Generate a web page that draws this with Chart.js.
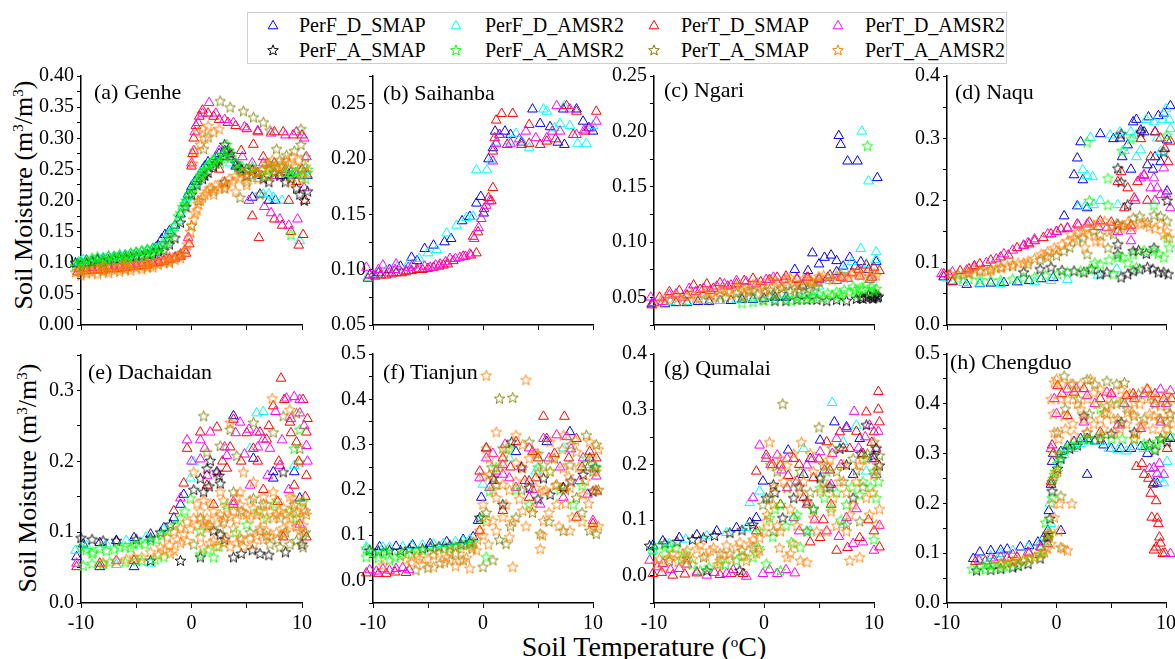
<!DOCTYPE html>
<html>
<head>
<meta charset="utf-8">
<script src="https://cdn.jsdelivr.net/npm/chart.js@4.4.0/dist/chart.umd.min.js"></script>
<style>
  body { margin: 0; width: 1175px; height: 659px; overflow: hidden; background: #fff; position: relative; font-family: 'Liberation Serif', serif; color: #000; }
  canvas.panel { position: absolute; }
  .ptitle { position: absolute; font-size: 22px; line-height: 22px; white-space: nowrap; }
  .ytitle { position: absolute; font-size: 26px; line-height: 28px; white-space: nowrap; transform: translate(-50%, -50%) rotate(-90deg); }
  .xtitle { position: absolute; font-size: 28px; line-height: 30px; white-space: nowrap; transform: translate(-50%, -50%); }
  sup { font-size: 15px; vertical-align: 9px; line-height: 0; }
  #legend { position: absolute; left: 247px; top: 12px; width: 758px; height: 50px; border: 1px solid #cfcfcf; }
  .lg { position: absolute; font-size: 20px; line-height: 20px; white-space: nowrap; }
  .lgm { position: absolute; }
</style>
</head>
<body>
<div id="legend"></div>
<div class="ytitle" style="left:24px; top:195px;">Soil Moisture (m<sup>3</sup>/m<sup>3</sup>)</div>
<div class="ytitle" style="left:28px; top:478px;">Soil Moisture (m<sup>3</sup>/m<sup>3</sup>)</div>
<div class="xtitle" style="left:644px; top:647px;">Soil Temperature (<sup>o</sup>C)</div>
<script>
// series (legend order)
const seriesNames = ['PerF_D_SMAP', 'PerF_D_AMSR2', 'PerT_D_SMAP', 'PerT_D_AMSR2',
                     'PerF_A_SMAP', 'PerF_A_AMSR2', 'PerT_A_SMAP', 'PerT_A_AMSR2'];
const seriesColors = ['#0000ff', '#00ffff', '#ff0000', '#ff00ff',
                      '#000000', '#00ff00', '#808000', '#ff8000'];
const seriesShapes = ['triangle', 'triangle', 'triangle', 'triangle', 'star', 'star', 'star', 'star'];

// x = soil temperature (oC), y = soil moisture (m3/m3), flat pairs
// (a) Genhe
const aFDSMAP = [-10.3,.098, -9.5,.104, -8.5,.106, -7.5,.109, -6.5,.111, -5.5,.114, -4.5,.118, -3.5,.122, -3,.127, -2.7,.138, -2.4,.145, -2,.151, -1.5,.16, -1,.178, -.6,.196, -.3,.21, 0,.222, .5,.235, 1,.25, 1.5,.262, 2.2,.27, 3,.28, 3.5,.27, 4,.255, 5,.25, 5.5,.205, 6.2,.21, 7,.2, 7.6,.2, 8,.24, 9,.245, 10,.25, 10.5,.24,
  -10,.1, -9,.104, -8,.107, -7,.11, -6,.112, -5,.116, -4,.12, -3.2,.125, .3,.23, 1.2,.255, 2.5,.275, 4.5,.25, 6,.24];
const aFDAMSR2 = [-10.5,.1, -9.8,.105, -9,.104, -8,.108, -7,.11, -6,.112, -5,.116, -4,.119, -3.2,.123, -2.5,.135, -2,.148, -1.6,.156, -1.2,.168, -.8,.19, -.4,.205, .2,.225, .8,.245, 1.4,.255, 2,.265, 2.8,.27, 3.5,.26, 4.5,.245, 5.5,.24, 6.5,.21, 7.4,.205, 8.2,.2, 9,.24, 9.8,.135, 10.3,.25,
  -10,.102, -8.5,.106, -7.5,.109, -6.5,.111, -5.5,.114, -4.5,.118, -3.5,.121, 9.5,.245, 6,.235, 7,.21];
const aTDSMAP = [-10.3,.085, -9,.088, -8,.088, -7,.09, -6,.092, -5,.094, -4,.096, -3,.1, -2,.105, -1,.11, -.2,.13, 0,.255, .1,.275, .2,.3, .4,.32, .7,.335, 1,.345, 1.5,.34, 2,.335, 2.5,.33, 3.3,.325, 4,.32, 5,.315, 6,.31, 7.5,.31, 8.3,.31, 9.2,.305, 10,.305, 4.5,.28, 5.6,.29, 6.5,.27, 7.5,.26, 8.5,.25, 9.5,.23, 6.1,.14, 5.5,.175, 7.5,.17, 8.2,.16, 9,.15, 9.7,.128, 10.1,.145, 10.3,.2, 8.8,.2, 3,.27, 2.5,.25,
  -9.5,.087, -8.5,.088, -7.5,.09, -6.5,.091, -5.5,.093, -4.5,.095, -3.5,.098, -2.5,.102, -1.5,.107, -.5,.115];
const aTDAMSR2 = [-10.2,.09, -9,.092, -8,.093, -7,.094, -6,.096, -5,.098, -4,.1, -3,.103, -2,.106, -1,.112, -.3,.14, 0,.26, .2,.28, .3,.31, .6,.325, 1,.34, 1.6,.357, 2.2,.34, 3,.33, 3.8,.325, 4.8,.318, 6,.312, 7.2,.308, 8.5,.305, 9.5,.31, 10.2,.3, 2.5,.28, 3.5,.275, 4.6,.27, 5.5,.26, 6.5,.26, 7.5,.24, 8.5,.245, 9.5,.24, 10.4,.27, 6.6,.19, 7.2,.18, 8,.17, 8.8,.16, 9.6,.17, 10.2,.22, 5.2,.2,
  -9.5,.091, -8.5,.092, -7.5,.094, -6.5,.095, -5.5,.097, -4.5,.099, -3.5,.101, -2.5,.104, -1.5,.109, -.6,.12];
const aFASMAP = [-10.5,.1, -9.5,.1, -8.5,.105, -7.5,.105, -6.5,.108, -5.5,.11, -4.5,.112, -3.5,.115, -2.5,.12, -1.5,.14, -1,.165, -.5,.19, 0,.21, .5,.225, 1,.235, 1.5,.245, 2,.255, 2.5,.265, 3,.29, 3.5,.275, 4,.26, 5,.24, 6,.245, 7,.23, 8,.24, 9,.235, 9.8,.21, 10.2,.2, 10.5,.215, 4.5,.25, 3,.23,
  -9,.102, -8,.103, -7,.107, -6,.109, -5,.111, -4,.114, -3,.118, -2,.13, 1.2,.24, 2.2,.26, 3.3,.28, 4.2,.255, 5.5,.25, 6.5,.235, 7.5,.245, 8.5,.23, 9.5,.22];
const aFAAMSR2 = [-10.5,.095, -10,.1, -9.5,.105, -9,.108, -8.5,.11, -8,.105, -7.5,.112, -7,.11, -6.5,.114, -6,.112, -5.5,.116, -5,.118, -4.5,.12, -4,.122, -3.5,.124, -3,.126, -2.5,.13, -2,.145, -1.5,.16, -1.2,.175, -.8,.19, -.5,.2, -.2,.21, .2,.22, .6,.235, 1,.245, 1.4,.255, 1.8,.262, 2.3,.27, 2.8,.275, 3.2,.29, 3.6,.27, 4,.26, 4.6,.255, 5.2,.25, 5.8,.245, 6.4,.25, 7,.25, 7.6,.245, 8.2,.255, 8.8,.25, 9.4,.245, 10,.24, 10.5,.25, 9,.145, -9.8,.09, -7.8,.095, -5.8,.1, -3.8,.105,
  -10.2,.102, -9.7,.098, -9.2,.1, -8.7,.103, -8.2,.1, -7.7,.106, -7.2,.104, -6.7,.108, -6.2,.106, -5.7,.109, -5.2,.112, -4.7,.11, -4.2,.114, -3.7,.116, -3.2,.118, -2.8,.122, -2.2,.135, -1.8,.15, -1,.18, -.6,.195, 0,.215, .4,.23, .8,.24, 1.2,.25, 1.6,.258, 2,.265, 2.6,.26, 3,.27, 3.4,.28, 4.3,.25, 5.5,.255, 6.7,.24, 7.3,.255, 8.5,.245, 9.1,.24, 9.7,.25, 10.3,.235];
const aTASMAP = [-10,.085, -8,.088, -6,.09, -4,.093, -2,.1, -1,.115, 0,.16, .6,.2, 1.1,.283, 1.5,.302, 2.6,.36, 3.5,.35, 4.7,.344, 5.6,.334, 6.5,.326, 7.1,.313, 7.7,.283, 8.6,.273, 9.3,.28, 9.9,.315, 9.9,.29, 6.2,.21, 4.4,.205, 5,.23, 7,.26, 8,.265, 10.3,.27, 3,.22, 2,.215];
const aTAAMSR2 = [-10.5,.085, -10,.08, -9.5,.083, -9,.085, -8.5,.082, -8,.086, -7.5,.084, -7,.088, -6.5,.086, -6,.09, -5.5,.088, -5,.092, -4.5,.09, -4,.094, -3.5,.093, -3,.097, -2.5,.1, -2,.102, -1.5,.105, -1,.108, -.5,.12, -.2,.14, 0,.16, .3,.18, .6,.195, 1,.205, 1.4,.215, 1.8,.22, 2.2,.225, 2.8,.23, 3.4,.235, 4,.24, 4.6,.245, 5.2,.25, 5.8,.245, 6.4,.25, 7,.255, 7.6,.255, 8.2,.26, 8.8,.26, 9.4,.255, 10,.25, 10.5,.245, .1,.26, .3,.28, .6,.31, 1,.315, 1.5,.32, 2.5,.315, 3,.22, 4,.215, 5,.225, 6,.235, 7,.24, 8,.245, 9,.23, 10,.235, -8,.095, -6,.1, -4,.1, -2,.11,
  -10.2,.088, -9.7,.09, -9.2,.087, -8.7,.09, -8.2,.092, -7.7,.089, -7.2,.093, -6.7,.091, -6.2,.095, -5.7,.093, -5.2,.096, -4.7,.095, -4.2,.098, -3.7,.097, -3.2,.1, -2.7,.104, -2.2,.106, -1.7,.108, -1.2,.112, -.8,.115, -.4,.13, -.1,.15, .2,.17, .5,.185, .8,.2, 1.2,.21, 1.6,.22, 2,.21, 2.5,.22, 3.1,.225, 3.7,.23, 4.3,.235, 4.9,.24, 5.5,.24, 6.1,.245, 6.7,.26, 7.3,.265, 7.9,.25, 8.5,.265, 9.1,.27, 9.7,.265, 10.3,.255, 10.6,.24, 1.2,.3, 2,.31, .8,.29];

// (b) Saihanba
const bFDSMAP = [-10.3,.095, -9.5,.097, -8.5,.1, -7.5,.103, -6.5,.111, -6,.108, -5.3,.119, -4.5,.122, -3.5,.125, -2.9,.128, -1.9,.144, -1.2,.148, -.6,.16, -.2,.166, .06,.151, .5,.2, .9,.21, 1.1,.225, 1.5,.222, 2,.225, 2.5,.222, 3.5,.215, 4.5,.245, 5.2,.232, 6.1,.229, 6.8,.215, 7.3,.245, 7.4,.213, 8.5,.245, 9.1,.234, 9.6,.228, 10,.225];
const bFDAMSR2 = [-10.5,.093, -9.7,.096, -8.8,.099, -7.8,.102, -6.8,.105, -5.8,.11, -5,.115, -4.2,.118, -3.3,.133, -2.4,.14, -1.5,.147, -.9,.148, -.6,.19, .36,.19, .76,.199, 1.2,.215, 2.4,.216, 3,.223, 3.6,.215, 4.2,.21, 5.5,.245, 5.8,.243, 6.5,.228, 7,.232, 7.9,.23, 7.4,.248, 8.6,.214, 9.4,.214, 10,.23];
const bTDSMAP = [-10.45,.092, -9.8,.094, -8.8,.095, -7.9,.097, -7,.098, -6,.1, -5,.101, -4,.103, -3.2,.105, -2.7,.108, -1.8,.112, -1.1,.113, -.6,.115, -.9,.13, -.45,.134, .1,.155, .5,.165, .9,.174, .76,.162, .9,.207, 1.06,.219, 1.2,.235, 1.7,.241, 2.7,.241, 2.2,.213, 3.5,.213, 4.2,.231, 4.2,.214, 5.2,.213, 5.8,.216, 6.6,.218, 7.6,.248, 8.2,.222, 8.5,.243, 9.3,.225, 10.3,.243,
  -9.3,.095, -8.3,.096, -7.4,.097, -6.5,.099, -5.5,.1, -4.5,.102, -3.6,.104];
const bTDAMSR2 = [-10.6,.102, -10,.095, -9.1,.104, -8.5,.097, -7.9,.105, -7,.099, -6.4,.104, -5.8,.101, -4.8,.102, -3.9,.105, -3,.11, -2.1,.111, -1.2,.114, -.8,.128, -.4,.138, -.15,.146, .3,.158, .6,.162, .9,.198, 1.2,.214, 1.5,.222, 2.5,.214, 3.3,.218, 3.9,.225, 4.8,.219, 5.8,.219, 6.3,.225, 6.7,.248, 7,.225, 7.9,.245, 8.5,.222, 9.2,.226, 9.7,.228, 10.3,.234, 10.6,.235,
  -9.5,.1, -8,.1, -6.8,.102, -5.3,.103, -4.3,.104, -3.4,.107, -2.5,.11, -1.6,.112];
const bFASMAP = [];
const bFAAMSR2 = [];
const bTASMAP = [];
const bTAAMSR2 = [];

// (c) Ngari
const cFDSMAP = [-10.2,.044, -9,.044, -8,.045, -7,.045, -6,.046, -5,.046, -4,.047, -3,.047, -2,.048, -1,.048, 0,.049, 1,.05, 2,.05, 2.8,.075, 4,.074, 4.4,.09, 5,.08, 5.5,.086, 6.1,.088, 6.6,.083, 6.6,.073, 7.2,.078, 7.8,.086, 8.3,.078, 8.8,.082, 9.5,.075, 10.2,.082, 6.8,.196, 6.97,.188, 7.6,.173, 8.5,.173, 10.3,.158, 3.5,.06, 5.8,.068];
const cFDAMSR2 = [-10,.045, -8.5,.046, -7,.046, -5.5,.047, -4,.047, -2.5,.048, -1,.049, .5,.05, 2,.051, 3.5,.052, 4.5,.055, 6,.065, 7.3,.075, 8,.082, 8.8,.094, 9.3,.08, 10.2,.091, 10.2,.084, 8.9,.2, 9.5,.155, 5,.06, 9.8,.07];
const cTDSMAP = [-10.2,.043, -9.5,.05, -8.6,.055, -7.7,.056, -7,.052, -6.4,.061, -5.8,.057, -5.2,.062, -4.6,.058, -4,.063, -3.3,.06, -2.5,.062, -1.8,.065, -1,.067, -.3,.064, .5,.066, 1.2,.068, 2,.069, 3,.066, 4,.068, 5,.067, 6,.07, 7,.068, 8,.072, 8.6,.075, 9.3,.079, 10,.077, 10.5,.074, 9.8,.068];
const cTDAMSR2 = [-10.3,.05, -10,.045, -9.2,.046, -8.6,.052, -8,.053, -7.4,.05, -6.8,.058, -6.2,.055, -5.5,.058, -4.9,.056, -4.3,.06, -3.6,.062, -3,.061, -2.5,.065, -1.6,.064, -.7,.062, .2,.066, .85,.068, 1.8,.066, 3,.067, 3.9,.068, 5,.066, 6.6,.065, 7.6,.067, 8.7,.069, 9.6,.066];
const cFASMAP = [1,.047, 2,.047, 3,.048, 3.9,.048, 4.8,.048, 5.7,.047, 6.6,.048, 7.5,.047, 8.4,.049, 9,.049, 9.3,.05, 9.7,.051, 10,.05, 10.3,.05, 10.1,.053,
  8.8,.05, 9.5,.052, 9.9,.049, 10.2,.052, 10.4,.051];
const cFAAMSR2 = [-2,.045, -1,.046, 0,.047, 1,.048, 2,.049, 3,.05, 3.9,.052, 4.5,.051, 5,.053, 5.8,.054, 6.6,.055, 7.3,.057, 8.1,.06, 8.7,.058, 9.3,.062, 9.6,.055, 10,.056, 9.4,.187, 7,.05, 8.5,.053,
  5.4,.05, 6.2,.052, 6.9,.053, 7.7,.055, 8.3,.057, 9,.058, 9.8,.06, 10.2,.058, 4.2,.049, 3.4,.048, 2.5,.047];
const cTASMAP = [-5,.048, -4,.052, -3.5,.05, -2.5,.054, -1.8,.052, -1,.056, -.1,.048, .5,.057, 1.2,.055, 2,.061, 2.8,.058, 3.6,.06, 4.3,.062, 5,.064,
  -2,.05, -1.4,.057, -.6,.053, .1,.055, .9,.053, 1.6,.058, 2.4,.056, 3.2,.057, 4,.058, 4.7,.06];
const cTAAMSR2 = [-9.5,.045, -8.6,.048, -7.8,.05, -7,.051, -6.2,.05, -5.5,.054, -4.8,.052, -4,.057, -3.2,.055, -2.5,.06, -1.8,.058, -1,.062, -.3,.06, .5,.065, 1.2,.063, 2,.067, 2.8,.064, 3.6,.067, 4.3,.065, 5,.069, 5.8,.068, 6.6,.07, 7.3,.068, 8.1,.072, 8.8,.07, 9.6,.069, 10.2,.07,
  -9,.05, -8,.052, -7.4,.047, -6.6,.053, -5.9,.049, -5.1,.056, -4.4,.05, -3.6,.058, -2.9,.052, -2.1,.061, -1.4,.055, -.6,.063, .1,.057, .9,.066, 1.6,.06, 2.4,.068, 3.2,.061, 4,.066, 4.7,.064, 5.4,.07, 6.2,.066, 7,.071, 7.7,.069, 8.5,.073, 9.2,.071, 10,.072];

// (d) Naqu
const dFDSMAP = [-10.3,.077, -9.5,.07, -8.2,.065, -7,.066, -6,.067, -4.8,.068, -3.6,.069, -2.5,.071, -1.4,.074, -.3,.076, .7,.175, 1.6,.241, 1.9,.268, 1.9,.191, 2.2,.294, 2.4,.233, 2.8,.188, 4,.307, 5.2,.299, 6.5,.289, 7,.326, 7.7,.313, 8.3,.257, 8.4,.334, 9.3,.336, 9.5,.262, 10.1,.215, 10.1,.297, 10.4,.352, 9,.27, 6,.27,
  5.8,.3, 7.3,.33, 8,.31, 9.8,.34, 9,.31, 6.8,.25, 8.8,.25];
const dFDAMSR2 = [-10,.075, -8.5,.068, -7,.067, -5.1,.066, -3.5,.068, -2,.069, -.5,.071, 1,.073, 2.4,.249, 3.1,.301, 3.3,.238, 3.4,.193, 4.9,.305, 5.6,.193, 6.2,.28, 7.7,.281, 8.9,.326, 9.5,.278, 10,.347, 10.4,.315, 10.7,.246, 4,.2, 7,.3, 2,.19, 3.8,.08, 5.5,.09,
  5.8,.31, 6.8,.31, 8.2,.33, 9.7,.33, 10.3,.33, 9.2,.3, 7.3,.27, 2.8,.24, 2.6,.19];
const dTDSMAP = [-10.3,.082, -9.5,.069, -8.8,.087, -7,.098, -5.1,.109, -3.6,.124, -2,.135, -.5,.146, .4,.154, 1.9,.162, 4,.167, 5.6,.23, 5.9,.246, 6.2,.188, 6.5,.22, 7.1,.204, 7.7,.299, 8,.241, 9,.31, 9.9,.283, 10.2,.262,
  -9.8,.08, -8,.09, -7.5,.095, -6,.104, -4.4,.112, -3,.128, -2.5,.13, -1.2,.14, 0,.15, 1,.155, 3,.165, 5,.165, 6.8,.16, 7.4,.23, 8.6,.27, 9.5,.3, 10.4,.295, 8.3,.2];
const dTDAMSR2 = [-10.5,.082, -8.2,.088, -6.4,.1, -4.8,.114, -2.6,.132, -.8,.146, 1,.156, 2.8,.162, 4.6,.156, 6.8,.151, 6.8,.135, 7.7,.236, 8.6,.22, 8.9,.236, 9.5,.209, 9.8,.252, 10.4,.188,
  -9.5,.085, -7.5,.093, -5.5,.106, -4,.12, -3,.127, -2,.138, 0,.15, 2,.16, 3.8,.158, 5.6,.15, 7.2,.2, 8,.24, 9.2,.22, 10,.21, 9,.2];
const dFASMAP = [-3,.085, -1.5,.09, -.5,.093, 1.6,.087, 4,.082, 5.9,.077, 7,.087, 8.3,.093, 9.8,.085, 5.6,.114, 7,.119, 8.9,.124, 5.6,.13, 5.9,.23, 5.6,.252, 5.9,.307, 7.7,.31, 6.5,.193, 9.8,.278, 10.1,.2, 5.6,.162,
  .5,.088, 2.5,.085, 3.2,.09, 4.6,.085, 6.5,.082, 7.6,.09, 8.8,.09, 9.3,.085, 10.2,.082, 7.5,.12, 8.2,.115];
const dFAAMSR2 = [-9,.075, -7,.073, -5.1,.072, -2,.077, .1,.082, 2.2,.087, 4,.098, 5.6,.109, 7,.114, 8.9,.119, 9.8,.109, 10.1,.14, 4.7,.193, 2.8,.294, 4.7,.236, 6.8,.299, 10.1,.305, 8.9,.193, 5.2,.082, 7.3,.093,
  -8,.074, -6,.072, -4,.074, -3,.076, -1,.08, 1,.085, 3,.09, 3.5,.1, 4.8,.105, 6,.11, 6.5,.1, 8,.12, 9.3,.115, 10.3,.125, 6,.28, 3,.2];
const dTASMAP = [-9,.082, -7,.088, -5.1,.093, -2.6,.098, -.8,.109, .7,.119, 1.9,.135, 3.4,.151, 5.2,.146, 7,.172, 8.9,.177, 10.1,.167, 2.8,.114, 4.7,.124,
  -8,.085, -6,.09, -4,.095, -1.5,.105, 0,.112, 1.2,.125, 2.4,.14, 4,.145, 6,.16, 7.6,.175, 8.3,.165, 9.5,.175];
const dTAAMSR2 = [-9.7,.082, -8.2,.085, -7.5,.09, -6.3,.087, -5.5,.092, -4.5,.095, -3.5,.1, -2.6,.103, -1.4,.114, -.8,.118, -.2,.124, .5,.13, 1.3,.146, 2,.15, 2.8,.156, 3.4,.16, 4.4,.167, 4,.135, 5,.16, 5.9,.156, 6.5,.165, 7.7,.162, 8.5,.158, 9.5,.162, 9.8,.145, 10.1,.151,
  -9,.08, -8,.082, -7,.086, -6,.088, -5,.092, -4,.098, -3,.1, -2,.107, -1,.112, 0,.12, 1,.135, 1.6,.14, 2.4,.15, 3,.145, 3.8,.165, 4.8,.15, 5.5,.163, 6.2,.16, 7,.158, 8,.165, 9,.155, 10.3,.14, 2.6,.125, 3.6,.135];

// (e) Dachaidan
const eFDSMAP = [-10.4,.065, -9.8,.083, -8.3,.085, -6.8,.088, -5.2,.092, -3.7,.097, -2.5,.106, -1.6,.12, -1,.139, -.7,.153, 3.8,.264, 5.6,.204, 7.4,.185, 7.4,.176, 10.8,.13, 9.8,.148, 9.3,.185, -8.3,.051, -5.2,.051];
const eFDAMSR2 = [-10.5,.074, -9.5,.081, -7.7,.083, -5.9,.088, -4.1,.093, -2.5,.104, -.1,.176, .2,.199, 5.9,.268, 6.5,.27, 5.3,.218, 9.3,.194, -6.8,.054, -3.7,.056];
const eTDSMAP = [-10.4,.051, -8.3,.056, -5.2,.06, -1.6,.13, -.7,.169, -.4,.218, .8,.241, 2.3,.248, 3.8,.259, 3.2,.19, 1.4,.166, 5.6,.218, 6.2,.241, 6.8,.231, 7.4,.278, 8.1,.317, 8.4,.287, 8.9,.255, 9.5,.227, 10.1,.287, 10.4,.241, 10.4,.18, 8.3,.093, 10.4,.093, 9.3,.166, 7.8,.143, 2,.139, 3.8,.139,
  4.5,.2, 5,.24, 6,.2, 7,.25, 7.9,.2, 9,.24, 9.7,.2, 10.5,.26, 10.3,.15, 6.5,.16, 3.5,.22, 2.8,.2];
const eTDAMSR2 = [-10.4,.056, -6.8,.06, -1,.148, -.4,.23, .8,.23, 1.2,.218, 1.7,.241, .8,.203, 1.4,.18, 3.2,.208, 4.4,.255, 5.2,.245, 5.9,.241, 6.5,.231, 7.1,.218, 8.6,.289, 9.3,.291, 9.8,.287, 9.8,.268, 10.4,.222, 8,.194, 5.3,.166, 3.8,.143, 9.8,.111, 2.3,.185,
  3,.22, 4,.24, 4.8,.21, 6,.22, 7.6,.27, 8.2,.23, 9,.26, 10.2,.25, 10.5,.2, 8.8,.16, 6.9,.18, 0,.2];
const eFASMAP = [-10,.092, -6.8,.088, -3.7,.092, -1.9,.111, .2,.16, .8,.176, 1.4,.19, 1.7,.201, 2.3,.185, 2.6,.169, 1.1,.157, 2,.102, 2.6,.097, .8,.065, -1,.06, 3.8,.065, 6.2,.07, 8.3,.185, 10,.083, -3.7,.06,
  -9,.09, -8,.088, -5,.09, -2.8,.1, 1.6,.165, 2.5,.18, 3,.09, 4.5,.07, 5.5,.075, 7,.068, 8.5,.072];
const eFAAMSR2 = [-10,.079, -8.9,.072, -7.7,.074, -6.5,.079, -5.2,.083, -3.7,.088, -2.2,.101, -1,.12, -.1,.148, -9.8,.053, -7.4,.058, -4.5,.06, .8,.069, 2,.065, .8,.102, 3.2,.139, 5,.111, 6.8,.12, 8.9,.13, 9.3,.218, 9.8,.245, 10.1,.143,
  -9.5,.075, -9,.07, -8.3,.077, -7,.076, -6,.08, -5.5,.078, -4.8,.085, -4.2,.083, -3.2,.09, -2.7,.096, -1.5,.11, -.6,.13, -9,.056, -8,.055, -6,.058, -5,.06, -3.3,.062, -2.5,.065, 1.5,.075, 2.5,.08, 4,.1, 6,.13, 7.5,.14, 9.5,.12];
const eTASMAP = [1.1,.264, 1.4,.213, 2.6,.222, 3.5,.245, 4.1,.208, 5.6,.255, 7.4,.241, 8.3,.264, 9.5,.268, 9.8,.218, 9.8,.199, 6.2,.102, 7.1,.083, 8,.079, 8.9,.083, 10.1,.079, 3.8,.157, 5.6,.148, 9.3,.139, .8,.12, 2.6,.106, .2,.083, 10.1,.097,
  4.5,.09, 5.3,.1, 6.8,.095, 7.8,.09, 8.5,.1, 9.5,.088, 10.3,.1, 1.5,.11, 3,.12, 4.5,.13, 6.5,.14, 8,.12, 10.3,.13];
const eTAAMSR2 = [-6.8,.06, -5.2,.065, -3.7,.072, -2.8,.079, -2.2,.093, -1.6,.101, -1,.106, -.4,.115, .2,.12, .8,.13, 1.4,.12, 2,.13, 2.6,.125, 3.2,.134, 3.8,.13, 4.4,.139, 5,.125, 5.6,.134, 6.2,.13, 6.8,.139, 7.4,.12, 8,.13, 8.6,.125, 9.2,.134, 9.8,.12, 10.4,.125, .8,.093, 2,.088, 3.2,.093, 4.4,.093, 5.6,.083, 6.8,.102, 8.3,.106, 9.8,.102, -.4,.088, -1.6,.074, 1.4,.106, 3.8,.106, 6.2,.106, 2.6,.157, 4.7,.185, 7.3,.289, .2,.185, 3.5,.255, 8.9,.273, 4.4,.157, 5.6,.171, 7.4,.157, 9.2,.148,
  -3,.068, -2.5,.075, -2,.082, -1.3,.09, -.7,.098, -.1,.105, .5,.11, 1.1,.115, 1.7,.11, 2.3,.12, 2.9,.115, 3.5,.122, 4.1,.118, 4.7,.128, 5.3,.12, 5.9,.125, 6.5,.118, 7.1,.13, 7.7,.125, 8.3,.135, 8.9,.12, 9.5,.128, 10.1,.132, 10.6,.115, 1.1,.078, 1.7,.085, 2.3,.08, 2.9,.085, 3.5,.08, 4.1,.085, 4.7,.08, 5.3,.092, 5.9,.095, 6.5,.09, 7.1,.095, 7.7,.1, 8.3,.098, 8.9,.11, 9.5,.108, 10.1,.11, .5,.14, 1.1,.145, 1.7,.14, 2.9,.145, 4.1,.15, 5.3,.145, 6.5,.15, 7.7,.145, 8.9,.15, 10.1,.145, -1,.085, -1.9,.07, -4.5,.065, -5.9,.062, -8,.057];

// (f) Tianjun
const fFDSMAP = [-10.9,.07, -9.4,.074, -7.9,.075, -6.4,.078, -4.8,.081, -3.3,.085, -1.8,.09, -.9,.096, -.45,.132, -.15,.183, .3,.292, 3,.284, 5.8,.306, 7.9,.328, 9.7,.27, 4.2,.219];
const fFDAMSR2 = [-10.9,.052, -10.6,.074, -9.1,.073, -7.3,.074, -5.5,.078, -3.6,.081, -1.8,.087, 0,.212, 2.4,.27, 4.8,.241, 7.3,.292, 9.7,.255,
  -10.3,.065, -8.5,.073, -6.5,.077, -4.5,.08, -2.5,.085, -1.2,.09];
const fTDSMAP = [-10.6,.016, -8.8,.015, -7,.017, -.3,.241, .3,.292, 1.8,.27, 3,.306, 4.5,.284, 5.5,.362, 5.8,.313, 7.4,.362, 8.5,.313, 9.7,.284, 10.3,.197, 8.5,.139, 7.3,.205, 4.2,.183, 1.8,.154, -.3,.11, 10,.125, 4.8,.226,
  -9.5,.015, -8,.018, 1,.22, 2.5,.25, 3.8,.22, 5,.27, 6.5,.28, 7.8,.27, 9,.25, 10.3,.27];
const fTDAMSR2 = [-10.3,.023, -9.1,.025, -7.9,.026, -6.7,.023, -.3,.226, .3,.27, 1.2,.241, 1.8,.255, 2.4,.226, 4.2,.292, 5.5,.313, 6.7,.321, 7.6,.317, 9.1,.27, 10,.132, 7.3,.183, 5.2,.168, 3,.205, 1.8,.234, .6,.205,
  -9.7,.02, -8.5,.022, -7.3,.028, .9,.28, 2,.3, 3.5,.25, 4.5,.2, 6,.27, 7,.25, 8,.29, 8.8,.22, 9.5,.19, 10.3,.23];
const fFASMAP = [-10.3,.067, -8.5,.067, -6.7,.07, -4.8,.074, -3,.078, -1.2,.085, -.3,.139, .9,.226, 1.8,.168, 2.6,.306, 4.2,.205, 5.5,.226, 6.1,.19, 7.3,.205, 9.1,.234, 10,.197,
  -9.5,.065, -7.5,.066, -5.5,.07, -4,.075, -2,.08, 3.5,.25, 5,.18, 8,.22, 10.2,.25];
const fFAAMSR2 = [-10.6,.052, -9.1,.06, -7.3,.061, -5.5,.067, -3.6,.07, -1.8,.078, -.9,.085, -10.6,.07, -8.5,.045, 0,.139, .6,.197, 2.4,.292, 4.2,.168, 6.1,.241, 8.2,.168, 9.4,.27, .3,.052,
  -10,.06, -9.5,.05, -8.8,.065, -8,.05, -7.5,.055, -6.5,.06, -6,.065, -4.5,.068, -3,.072, -2.5,.075, -1.2,.08, 1.2,.25, 3,.2, 5,.25, 7,.2, 9,.21, 10.3,.25];
const fTASMAP = [-6.1,.023, -3.9,.038, -1.8,.045, 0,.03, .9,.045, 1.5,.402, 2.7,.404, 2.1,.081, 3,.139, 4.2,.306, 5.2,.103, 5.5,.255, 7.3,.11, 7.9,.255, 9.4,.321, 9.7,.11, 10.3,.103, 10,.241, 6.7,.212, 1.2,.212, 1.8,.292, 8.5,.183,
  -5,.028, -3,.045, -2.5,.06, -1,.07, .3,.15, .8,.25, 1.5,.09, 2.5,.12, 3.5,.2, 4.5,.15, 5,.28, 6,.13, 6.5,.27, 7.5,.2, 8,.3, 9,.15, 9.5,.25, 10.5,.2, 10.3,.3];
const fTAAMSR2 = [-10.9,.038, -9.1,.034, -7,.045, -5.8,.049, -4.5,.056, -3.3,.052, -2.1,.045, -1.2,.027, -.6,.067, -.3,.11, 0,.168, .3,.292, .6,.234, .9,.132, 1.2,.183, 1.8,.27, 2.4,.096, 3,.219, 3.6,.154, 3.9,.443, .3,.453, 4.2,.27, 4.8,.205, 5.5,.132, 5.2,.07, 2.7,.03, 6.1,.306, 6.7,.168, 7.3,.248, 7.9,.11, 8.5,.284, 9.1,.19, 9.7,.306, 10.3,.241, 10.6,.154, 10,.118, 7.3,.321, 3,.321, 1.2,.328, 3.6,.248, 6.1,.241, 7.9,.205, 5.5,.197, 2.1,.168, 1.8,.212,
  -6.5,.04, -6,.055, -5.5,.035, -5,.048, -4.5,.03, -4,.06, -3.5,.04, -3,.065, -2.5,.032, -2,.07, -1.5,.05, -1,.075, -.5,.09, 0,.23, .3,.13, .6,.27, .9,.2, 1.2,.11, 1.5,.25, 1.8,.14, 2.1,.29, 2.4,.2, 2.7,.13, 3,.26, 3.3,.18, 3.6,.3, 3.9,.12, 4.2,.22, 4.5,.16, 4.8,.28, 5.1,.24, 5.4,.1, 5.7,.2, 6,.15, 6.3,.27, 6.6,.21, 6.9,.12, 7.2,.29, 7.5,.17, 7.8,.23, 8.1,.14, 8.4,.31, 8.7,.25, 9,.13, 9.3,.22, 9.6,.17, 9.9,.27, 10.2,.2, 10.5,.29, 10.5,.12, 0,.1, .5,.08];

// (g) Qumalai
const gFDSMAP = [-10.1,.054, -9.2,.062, -7.7,.068, -6.1,.073, -4.3,.08, -2.5,.086, -1.3,.095, -.7,.104, -.1,.17, 2.2,.226, 5.1,.244, 6.4,.277, 7.5,.268, 8.7,.247, 10,.211, 4.2,.211, 3.6,.182, 8.1,.182];
const gFDAMSR2 = [-10.1,.045, -8.6,.057, -7.1,.065, -5.2,.071, -3.4,.077, -1.6,.086, -1.3,.131, -.4,.152, 3.6,.229, 6.2,.312, 7.2,.241, 8.4,.271, 5.1,.176, 9.3,.188, 4.2,.08, 7.2,.092];
const gTDSMAP = [-10.1,.003, -8.3,0, -6.1,.004, -4,.001, -1.9,.003, -.7,.08, -.7,.188, .2,.217, 1.5,.199, 2.7,.211, 4.5,.176, 5.7,.241, 6.9,.259, 7.8,.229, 9.3,.295, 10.4,.332, 10.5,.277, 10,.259, 10,.08, 6.6,.045, 5.1,.068, 8.7,.068, 10.5,.051, 6.1,.128, 3.6,.14, 1.5,.128,
  -9.3,.005, -7.2,.002, -3,.003, .8,.2, 2.2,.18, 3.2,.2, 5,.21, 6,.19, 7.2,.23, 8.4,.26, 9,.22, 9.8,.24, 10.4,.3, 5.4,.1, 7.6,.05, 9.5,.1, 4.2,.06];
const gTDAMSR2 = [-10.4,.027, -9.2,.021, -7.7,.012, -6.1,.006, -5.2,0, -3.4,.003, -1.6,-.002, -.1,.003, 1.2,.003, 2.8,.004, -1,.14, -.4,.235, .2,.211, 1.2,.217, 2.1,.211, 3.9,.199, 5.1,.223, 6.6,.247, 7.5,.265, 8.2,.296, 9.6,.271, 10.2,.229, 10.2,.182, 10,.045, 8.1,.057, 5.7,.08, 3.9,.128, 7.5,.104, 6.1,.164, 2.1,.158, 2.7,.104,
  -9.7,.015, -8.5,.01, -7,.02, -4.5,.005, -2.8,.01, .5,.01, 2,.01, .6,.2, 1.6,.19, 3,.17, 4.4,.21, 5.5,.19, 6.2,.22, 7,.2, 8.6,.23, 9.2,.25, 9.8,.21, 10.4,.26, 4.6,.1, 6.8,.07, 9,.06, 10.5,.09, 8.4,.12, 3.2,.08];
const gFASMAP = [-10.4,.054, -7.9,.061, -5.5,.068, -3.1,.077, -1,.092, .2,.14, .85,.164, 1.7,.104, 2.7,.14, 3.9,.134, 5.1,.176, 6.9,.229, 8.1,.14, 9.3,.272, 10,.217, 10.5,.199, -5.2,.009, -2.2,.009,
  -9,.058, -6.5,.065, -4.5,.072, -2,.082, 1,.15, 3.2,.16, 4.5,.12, 6,.16, 7.5,.2, 8.8,.22, 10.2,.23];
const gFAAMSR2 = [-10.1,.045, -8.6,.051, -7.1,.039, -5.8,.009, -4,.021, -2.5,.027, -1,.033, .2,.021, 1.5,.009, -.4,.08, .5,.104, 1.5,.128, 2.7,.104, 3.3,.051, 3.9,.08, 5.1,.158, 6.1,.122, 7.5,.128, 8.7,.146, 10,.188, 10.2,.14, 10,.065, 9.3,.211, 5.7,.188,
  -9.5,.055, -9,.04, -8,.05, -7.5,.03, -6.5,.02, -5,.015, -3.5,.02, -2,.035, -.5,.05, .8,.07, 1,.12, 2,.09, 2.5,.06, 3,.11, 4.5,.12, 5.5,.14, 6.6,.15, 7,.1, 8,.16, 9,.17, 9.7,.16, 10.4,.17];
const gTASMAP = [-8.6,.027, -5.5,.033, -3.1,.039, -1,.051, -.1,.128, 1.7,.31, 1.2,.188, 2.1,.158, 3.3,.188, 5,.268, 5.7,.158, 6.6,.188, 8.1,.211, 10,.241, 10.5,.217, 7.5,.092, 8.7,.098, 3.9,.08, .85,.08,
  -7,.03, -4,.04, -2,.045, .5,.14, 2.8,.17, 4.2,.15, 5.4,.2, 6.2,.23, 7.2,.17, 8.4,.19, 9.4,.22, 10.3,.19, 9,.16];
const gTAAMSR2 = [-9.8,.021, -8.6,.033, -7.4,.039, -6.1,.048, -4.9,.045, -3.7,.039, -2.5,.051, -1.3,.057, -.4,.068, .2,.098, .85,.128, .5,.241, 1.5,.08, 2.1,.033, 2.7,.057, 3.3,.027, 3.9,.024, 3.4,.241, 4.5,.188, 5.1,.152, 5.7,.199, 6.1,.116, 6.9,.17, 7.8,.027, 8.7,.033, 8.1,.128, 8.7,.199, 9.3,.14, 10,.182, 10.2,.092, 2.1,.199, 3.3,.152, 4.5,.104, 1.5,.211, -7.1,.021, -4,.027, -1.6,.027, -.4,.045, 5.7,.08, 7.5,.08,
  -9.5,.03, -9,.015, -8.3,.04, -7.8,.025, -7,.045, -6.5,.03, -5.8,.055, -5.3,.035, -4.6,.05, -4.2,.02, -3.4,.055, -3,.03, -2.2,.06, -1.8,.035, -1,.065, -.7,.04, 0,.08, .3,.11, .6,.2, .9,.16, 1.2,.09, 1.8,.17, 2.4,.12, 2.7,.22, 3,.09, 3.6,.17, 4,.13, 4.2,.22, 4.8,.08, 5.4,.17, 6,.21, 6.3,.14, 6.6,.09, 7.2,.2, 7.5,.15, 7.8,.11, 8.4,.17, 9,.21, 9.6,.11, 9.9,.15, 10.3,.2, 10.5,.12, 1.4,.05, 2.4,.04];

// (h) Chengduo
const hFDSMAP = [-7.6,.089, -7,.102, -5.1,.106, -3.3,.112, -1.7,.122, -.8,.145, -.7,.185, -.5,.238, -.4,.284, .4,.304, 1.6,.324, 2.8,.33, 4.3,.317, 5.9,.31, 7.7,.314, 8.9,.241, 10.4,.33, 2.8,.258, .4,.145,
  -6,.105, -4.5,.108, -2.5,.115, -1.2,.13, -.3,.3, 1,.315, 2.2,.33, 3.5,.325, 5,.31, 6.8,.31, 8.3,.3, 9.2,.24];
const hFDAMSR2 = [-7,.086, -5.1,.099, -2.6,.112, -.5,.159, -.2,.258, .7,.297, 2.2,.32, 4,.324, 5.6,.307, 7.1,.314, 9.8,.241, 10.1,.284, 8.9,.271,
  -6,.095, -4,.105, -1.5,.12, -.6,.2, .3,.29, 1.5,.31, 3,.325, 4.8,.31, 6.4,.305, 8,.31, 9.4,.25];
const hTDSMAP = [-7.4,.083, -5.7,.086, -3.6,.092, -1.4,.112, -.8,.132, -.5,.244, -.4,.317, .1,.436, 1.6,.423, 4,.41, 6.4,.416, 8.3,.429, 9.8,.41, 7.3,.274, 8,.258, 8.8,.238, 9.1,.205, 8.7,.172, 9.3,.159, 9.4,.132, 9.1,.112, 9.7,.099, 8.9,.106, 10.1,.31, 4,.343, 1,.376,
  -6.5,.084, -4.5,.09, -2.5,.1, .5,.42, 2.5,.43, 5,.42, 7,.42, 9,.42, 10.5,.41, 7.8,.28, 8.4,.25, 8.6,.22, 9.2,.17, 9.5,.12, 9.9,.1];
const hTDAMSR2 = [-7.1,.086, -5.1,.092, -2.6,.102, -.8,.119, -.5,.31, -.2,.41, 1,.429, 2.8,.416, 4.6,.423, 7.1,.41, 9.5,.429, 10.4,.426, 10.7,.343, 9.5,.363, 8.9,.271, 9.8,.258, 10.4,.099, 2.5,.363, 5.6,.357, 7.7,.35,
  0,.38, 1.8,.43, 3.5,.4, 5,.42, 6.2,.4, 8,.42, 9,.4, 10,.4, 10.7,.29, 9.2,.26, 8.5,.27, 9.4,.28, -6,.09, -4,.097, -1.5,.112];
const hFASMAP = [-7.3,.066, -5.1,.069, -2.6,.079, -.8,.132, -.4,.225, .4,.29, 1.9,.317, 4,.33, 5.9,.363, 7.1,.343, 9,.307, 10.1,.324, 2.5,.376,
  -6,.067, -4,.072, -3.5,.075, -1.5,.09, -.6,.17, .1,.27, 1.2,.31, 3,.33, 5,.34, 8.5,.32, 9.5,.33];
const hFAAMSR2 = [-7.7,.069, -6.3,.079, -4.8,.076, -3,.086, -1.4,.099, -.8,.125, -1,.162, -.4,.211, -.1,.264, .4,.297, 1.3,.317, 2.5,.33, 4,.337, 5.9,.403, 7.1,.33, 8.3,.317, 9.2,.324, 10.4,.337, 4,.39,
  -7,.072, -6.5,.068, -6,.075, -5.5,.07, -5,.08, -4.5,.072, -4,.082, -3.5,.078, -2.5,.088, -2,.092, -1.2,.105, -.6,.14, -.3,.25, .1,.28, .8,.31, 1.8,.32, 3,.33, 5,.33, 6,.33, 8,.32, 9.6,.33, 9,.31];
const hTASMAP = [-.8,.139, -.4,.244, .4,.215, .4,.112, .1,.343, .7,.456, 2.8,.449, 4.6,.446, 6.2,.443, 4.4,.383, 7.1,.376, 8.6,.416, 10.1,.396, 10.1,.363, 2.8,.343, 5.6,.37,
  1.5,.44, 2,.41, 3.5,.44, 5,.4, 5.5,.44, 6.5,.39, 7.5,.42, 8,.37, 9,.4, 9.5,.37, 10.4,.38, 3,.38, .2,.3, .8,.39];
const hTAAMSR2 = [-5.1,.079, -3.6,.086, -2,.092, -1.1,.102, -.5,.119, -.2,.172, -.2,.258, -.2,.343, -.2,.443, .4,.41, 1,.106, 1.4,.2, .7,.376, 1.6,.423, 2.2,.39, 2.8,.343, 3.4,.423, 4,.37, 4.6,.396, 5.3,.343, 5.9,.429, 6.5,.383, 7.1,.403, 7.7,.357, 8.3,.41, 8.9,.376, 9.5,.396, 10.1,.35, 10.6,.41, 10.7,.324, 1.6,.337, 4,.33, 7.1,.33, -.5,.41, .1,.264, .2,.145,
  -4.5,.08, -4,.084, -3,.088, -2.5,.09, -1.5,.098, -.8,.11, -.6,.14, -.4,.2, -.3,.3, -.3,.38, 0,.45, .2,.33, .5,.44, .8,.35, 1,.41, 1.3,.44, 1.5,.36, 1.9,.4, 2.2,.44, 2.5,.37, 2.8,.41, 3.1,.45, 3.4,.36, 3.7,.4, 4,.43, 4.3,.35, 4.6,.38, 4.9,.42, 5.2,.37, 5.5,.4, 5.8,.35, 6.1,.41, 6.4,.36, 6.7,.42, 7,.38, 7.3,.34, 7.6,.4, 7.9,.36, 8.2,.43, 8.5,.38, 8.8,.35, 9.1,.41, 9.4,.37, 9.7,.34, 10,.42, 10.3,.38, 10.6,.36, 10.7,.4, .3,.2, .6,.11];

// panel layout (chart-area box in page pixels) and axes
const panels = [
  { title: '(a) Genhe',     box: [81, 73, 302, 325],   y: [0, 0.4, 0.025, 0.05, 2],   xLab: false, t: [94, 92],
    data: [aFDSMAP, aFDAMSR2, aTDSMAP, aTDAMSR2, aFASMAP, aFAAMSR2, aTASMAP, aTAAMSR2] },
  { title: '(b) Saihanba',  box: [373, 73, 593, 325],  y: [0.05, 0.275, 0.025, 0.05, 2], xLab: false, t: [383, 93],
    data: [bFDSMAP, bFDAMSR2, bTDSMAP, bTDAMSR2, bFASMAP, bFAAMSR2, bTASMAP, bTAAMSR2] },
  { title: '(c) Ngari',     box: [654, 73, 874, 325],  y: [0.025, 0.25, 0.025, 0.05, 2], xLab: false, t: [664, 90],
    data: [cFDSMAP, cFDAMSR2, cTDSMAP, cTDAMSR2, cFASMAP, cFAAMSR2, cTASMAP, cTAAMSR2] },
  { title: '(d) Naqu',      box: [947, 73, 1166, 325], y: [0, 0.4, 0.05, 0.1, 1],     xLab: false, t: [955, 92],
    data: [dFDSMAP, dFDAMSR2, dTDSMAP, dTDAMSR2, dFASMAP, dFAAMSR2, dTASMAP, dTAAMSR2] },
  { title: '(e) Dachaidan', box: [81, 352, 302, 603],  y: [0, 0.35, 0.05, 0.1, 1],    xLab: true, t: [88, 372],
    data: [eFDSMAP, eFDAMSR2, eTDSMAP, eTDAMSR2, eFASMAP, eFAAMSR2, eTASMAP, eTAAMSR2] },
  { title: '(f) Tianjun',   box: [373, 351, 593, 603], y: [-0.05, 0.5, 0.05, 0.1, 1], xLab: true, t: [383, 372],
    data: [fFDSMAP, fFDAMSR2, fTDSMAP, fTDAMSR2, fFASMAP, fFAAMSR2, fTASMAP, fTAAMSR2] },
  { title: '(g) Qumalai',   box: [654, 351, 874, 603], y: [-0.05, 0.4, 0.05, 0.1, 1], xLab: true, t: [664, 368],
    data: [gFDSMAP, gFDAMSR2, gTDSMAP, gTDAMSR2, gFASMAP, gFAAMSR2, gTASMAP, gTAAMSR2] },
  { title: '(h) Chengduo',  box: [947, 351, 1166, 603], y: [0, 0.5, 0.05, 0.1, 1],    xLab: true, t: [950, 362],
    data: [hFDSMAP, hFDAMSR2, hTDSMAP, hTDAMSR2, hFASMAP, hFAAMSR2, hTASMAP, hTAAMSR2] }
];

const PAD_L = 70, PAD_T = 12, PAD_R = 24, PAD_B = 38;
const serifFamily = "'Liberation Serif', 'Times New Roman', serif";
Chart.defaults.font.family = serifFamily;
Chart.defaults.font.size = 20;
Chart.defaults.color = '#000';
const tickFont = { family: serifFamily, size: 20 };

function toPoints(arr) {
  const out = [];
  for (let i = 0; i < arr.length; i += 2) out.push({ x: arr[i], y: arr[i + 1] });
  return out;
}

// outline 5-point star used as a point style
function starPath(ctx, cx, cy, ro, ri) {
  ctx.beginPath();
  for (let k = 0; k < 10; k++) {
    const r = k % 2 ? ri : ro;
    const a = -Math.PI / 2 + k * Math.PI / 5;
    const px = cx + r * Math.cos(a), py = cy + r * Math.sin(a);
    if (k === 0) ctx.moveTo(px, py); else ctx.lineTo(px, py);
  }
  ctx.closePath();
}
function makeStar(color) {
  const c = document.createElement('canvas');
  c.width = 13; c.height = 13;
  const ctx = c.getContext('2d');
  ctx.strokeStyle = color;
  ctx.lineWidth = 0.9;
  starPath(ctx, 6.5, 7, 5.6, 2.4);
  ctx.stroke();
  return c;
}
const starImgs = seriesColors.map(makeStar);

function isMajor(v, step) {
  const q = v / step;
  return Math.abs(q - Math.round(q)) < 1e-6;
}

panels.forEach(p => {
  const [x0, y0, x1, y1] = p.box;
  const cv = document.createElement('canvas');
  cv.className = 'panel';
  const w = (x1 - x0) + PAD_L + PAD_R, h = (y1 - y0) + PAD_T + PAD_B;
  cv.width = w; cv.height = h;
  cv.style.left = (x0 - PAD_L) + 'px';
  cv.style.top = (y0 - PAD_T) + 'px';
  cv.style.width = w + 'px'; cv.style.height = h + 'px';
  document.body.appendChild(cv);

  const t = document.createElement('div');
  t.className = 'ptitle';
  t.textContent = p.title;
  t.style.left = p.t[0] + 'px';
  t.style.top = (p.t[1] - 11) + 'px';
  document.body.appendChild(t);

  const datasets = p.data.map((arr, i) => ({
    label: seriesNames[i],
    data: toPoints(arr),
    pointStyle: seriesShapes[i] === 'star' ? starImgs[i] : 'triangle',
    pointRadius: 5.6,
    pointBorderWidth: 1,
    pointBorderColor: seriesColors[i],
    pointBackgroundColor: 'rgba(0,0,0,0)',
    showLine: false,
    clip: false,
    order: 7 - i
  }));

  const [yMin, yMax, yStep, yMajor, dec] = p.y;
  new Chart(cv, {
    type: 'scatter',
    data: { datasets },
    options: {
      responsive: false,
      animation: false,
      devicePixelRatio: 1,
      layout: { padding: { left: 0, top: PAD_T, right: PAD_R, bottom: 0 } },
      plugins: { legend: { display: false }, tooltip: { enabled: false } },
      scales: {
        x: {
          type: 'linear', min: -10, max: 10,
          afterFit: s => { s.height = PAD_B; },
          border: { color: '#000', width: 1.5 },
          grid: { drawOnChartArea: false, drawTicks: true, tickLength: 5, color: '#000', lineWidth: 1 },
          ticks: {
            stepSize: 5, autoSkip: false, maxRotation: 0, padding: 4, color: '#000', font: tickFont,
            callback: v => (p.xLab && isMajor(v, 10)) ? String(v) : ''
          }
        },
        y: {
          type: 'linear', min: yMin, max: yMax,
          afterFit: s => { s.width = PAD_L; },
          border: { color: '#000', width: 1.5 },
          grid: { drawOnChartArea: false, drawTicks: true, tickLength: 4, color: '#000', lineWidth: 1 },
          ticks: {
            stepSize: yStep, autoSkip: false, padding: 3, color: '#000', font: tickFont,
            callback: v => isMajor(v, yMajor) ? v.toFixed(dec) : ''
          }
        }
      }
    }
  });
});

// legend
const legend = document.getElementById('legend');
const markX = [273, 456, 654, 838], textX = [299, 485, 681, 865], rowY = [25, 50];
seriesNames.forEach((name, i) => {
  const col = i % 4, row = Math.floor(i / 4);
  const m = document.createElement('canvas');
  m.className = 'lgm';
  m.width = 14; m.height = 14;
  m.style.left = (markX[col] - 7 - 248) + 'px';
  m.style.top = (rowY[row] - 7 - 13) + 'px';
  const ctx = m.getContext('2d');
  ctx.strokeStyle = seriesColors[i];
  ctx.lineWidth = 1;
  if (seriesShapes[i] === 'star') {
    starPath(ctx, 7, 7.5, 5.6, 2.4);
  } else {
    const r = 5.6;
    ctx.beginPath();
    for (let k = 0; k < 3; k++) {
      const a = k * 2 * Math.PI / 3;
      const px = 7 + Math.sin(a) * r, py = 8 - Math.cos(a) * r;
      if (k === 0) ctx.moveTo(px, py); else ctx.lineTo(px, py);
    }
    ctx.closePath();
  }
  ctx.stroke();
  legend.appendChild(m);
  const tx = document.createElement('div');
  tx.className = 'lg';
  tx.textContent = name;
  tx.style.left = (textX[col] - 248) + 'px';
  tx.style.top = (rowY[row] - 10 - 13) + 'px';
  legend.appendChild(tx);
});
</script>
</body>
</html>
